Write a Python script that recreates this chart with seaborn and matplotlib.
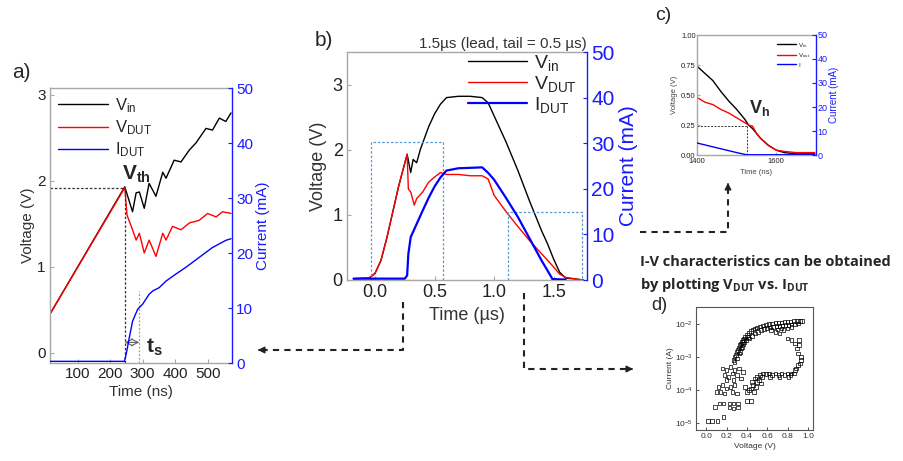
import matplotlib
matplotlib.use("Agg")
import matplotlib.pyplot as plt
import seaborn as sns
from matplotlib.lines import Line2D

# ---------------- data ----------------
# panel a (time in ns, voltage in V, current in mA)
a_t_vin = [15, 245, 269, 280, 290, 305, 320, 341, 362, 372, 397, 418, 444, 464, 495, 515, 536, 556, 572]
a_vin = [0.45, 1.93, 1.64, 1.86, 1.87, 1.68, 1.97, 1.82, 2.10, 2.03, 2.24, 2.22, 2.36, 2.44, 2.61, 2.59, 2.73, 2.69, 2.79]
a_t_vdut = [15, 245, 252, 269, 280, 290, 305, 320, 341, 362, 372, 392, 418, 444, 474, 500, 526, 546, 572]
a_vdut = [0.45, 1.92, 1.60, 1.43, 1.31, 1.39, 1.16, 1.31, 1.12, 1.39, 1.31, 1.47, 1.43, 1.51, 1.54, 1.62, 1.58, 1.64, 1.62]
a_t_idut = [15, 244, 250, 259, 269, 285, 300, 320, 331, 351, 372, 403, 433, 474, 515, 556, 572]
a_idut = [0.3, 0.3, 1.8, 4.6, 7.6, 9.8, 10.7, 12.5, 13.1, 13.7, 14.9, 16.2, 17.4, 19.2, 21.0, 22.3, 22.6]

# panel b (time in us)
b_t_vin = [-0.18, -0.05, 0.0, 0.05, 0.10, 0.15, 0.20, 0.27, 0.30, 0.32, 0.35, 0.38, 0.42, 0.45, 0.50,
           0.55, 0.60, 0.70, 0.80, 0.90, 0.95, 1.00, 1.10, 1.20, 1.30, 1.40, 1.45, 1.50, 1.55, 1.60, 1.75]
b_vin = [0.02, 0.03, 0.10, 0.30, 0.65, 1.05, 1.45, 1.93, 1.65, 1.85, 1.80, 2.00, 2.20, 2.35, 2.55,
         2.70, 2.80, 2.82, 2.82, 2.80, 2.72, 2.52, 2.12, 1.68, 1.20, 0.75, 0.55, 0.32, 0.12, 0.03, 0.0]
b_t_vdut = [-0.18, -0.05, 0.0, 0.05, 0.10, 0.15, 0.20, 0.27, 0.28, 0.30, 0.33, 0.35, 0.40, 0.45, 0.50,
            0.55, 0.60, 0.70, 0.80, 0.90, 0.95, 1.00, 1.10, 1.20, 1.30, 1.40, 1.50, 1.55, 1.60, 1.75]
b_vdut = [0.02, 0.03, 0.10, 0.30, 0.65, 1.05, 1.45, 1.93, 1.40, 1.35, 1.15, 1.25, 1.35, 1.50, 1.58,
          1.65, 1.62, 1.62, 1.60, 1.60, 1.55, 1.30, 1.05, 0.82, 0.60, 0.40, 0.20, 0.09, 0.04, 0.0]
b_t_idut = [-0.18, 0.25, 0.27, 0.28, 0.30, 0.35, 0.40, 0.45, 0.50, 0.55, 0.60, 0.70, 0.80, 0.90,
            0.95, 1.00, 1.10, 1.20, 1.30, 1.40, 1.45, 1.49, 1.60]
b_idut = [0.3, 0.3, 1.0, 5.7, 9.4, 12.3, 15.2, 18.0, 20.5, 22.5, 24.0, 24.5, 24.6, 24.7,
          23.5, 22.0, 18.0, 13.8, 9.0, 4.2, 2.0, 0.2, 0.1]

# panel c (time in ns)
c_t = [1400, 1420, 1440, 1460, 1480, 1500, 1520, 1530, 1540, 1550, 1560, 1580, 1600, 1620, 1650, 1697]
c_vin = [0.74, 0.68, 0.62, 0.53, 0.45, 0.38, 0.30, 0.25, 0.22, 0.18, 0.14, 0.08, 0.04, 0.02, 0.01, 0.01]
c_vout = [0.48, 0.44, 0.42, 0.38, 0.35, 0.31, 0.27, 0.25, 0.24, 0.18, 0.14, 0.08, 0.04, 0.03, 0.02, 0.02]
c_t_i = [1400, 1450, 1500, 1525, 1600, 1697]
c_i = [5.0, 3.0, 1.0, 0.1, 0.1, 0.1]

# panel d (V_DUT in V, log10 of I_DUT in A), grouped by branch of the loop
d_v = [0.40, 0.42, 0.44, 0.46, 0.48, 0.50, 0.53, 0.56, 0.59, 0.62, 0.65, 0.68, 0.71, 0.74, 0.77, 0.80, 0.83, 0.86, 0.89, 0.92, 0.94,
       0.42, 0.45, 0.48, 0.51, 0.54, 0.57, 0.60, 0.63, 0.66, 0.69, 0.72, 0.75, 0.78, 0.81, 0.84, 0.87, 0.90,
       0.64, 0.68, 0.72, 0.76, 0.80, 0.84, 0.70, 0.74,
       0.27, 0.28, 0.29, 0.30, 0.31, 0.32, 0.33, 0.34, 0.35, 0.36, 0.37, 0.38, 0.30, 0.32, 0.34, 0.36, 0.28, 0.33, 0.35, 0.39, 0.41, 0.37,
       0.80, 0.84, 0.87, 0.91, 0.89, 0.90, 0.93, 0.93, 0.90, 0.87, 0.84, 0.92, 0.88, 0.91,
       0.50, 0.53, 0.56, 0.59, 0.62, 0.65, 0.68, 0.71, 0.74, 0.77, 0.80, 0.83, 0.86, 0.55, 0.63, 0.72, 0.81,
       0.48, 0.50, 0.52, 0.54, 0.49, 0.46, 0.44, 0.42, 0.40, 0.38, 0.45, 0.47,
       0.16, 0.20, 0.24, 0.28, 0.32, 0.36, 0.18, 0.22, 0.26, 0.30, 0.34, 0.20, 0.27, 0.12, 0.16, 0.20, 0.24, 0.28, 0.10, 0.14, 0.18, 0.26, 0.30,
       0.13, 0.17, 0.23, 0.27, 0.31, 0.40, 0.44, 0.09, 0.23, 0.27, 0.31, 0.17, 0.02, 0.06, 0.11]
d_logi = [-2.35, -2.28, -2.22, -2.18, -2.15, -2.12, -2.09, -2.06, -2.04, -2.02, -2.00, -1.99, -1.98, -1.97, -1.96, -1.95, -1.94, -1.93, -1.93, -1.92, -1.93,
          -2.45, -2.38, -2.30, -2.25, -2.20, -2.17, -2.14, -2.12, -2.10, -2.08, -2.07, -2.06, -2.05, -2.04, -2.03, -2.02, -2.00,
          -2.20, -2.25, -2.30, -2.20, -2.15, -2.10, -2.18, -2.15,
          -3.10, -3.00, -2.95, -2.85, -2.80, -2.72, -2.65, -2.60, -2.55, -2.50, -2.45, -2.40, -3.05, -2.90, -2.75, -2.62, -3.15, -2.85, -2.70, -2.50, -2.40, -2.55,
          -2.45, -2.50, -2.60, -2.50, -2.75, -2.90, -3.00, -3.10, -3.25, -3.40, -3.50, -3.20, -3.35, -2.65,
          -3.60, -3.55, -3.50, -3.52, -3.50, -3.55, -3.50, -3.55, -3.50, -3.55, -3.50, -3.55, -3.50, -3.60, -3.60, -3.60, -3.60,
          -3.65, -3.75, -3.70, -3.80, -3.90, -3.85, -3.95, -4.00, -4.05, -3.90, -3.75, -4.05,
          -3.35, -3.40, -3.30, -3.40, -3.35, -3.45, -3.55, -3.60, -3.50, -3.55, -3.65, -3.70, -3.70, -3.90, -3.85, -3.95, -3.90, -3.85, -4.05, -4.05, -4.10, -4.05, -4.10,
          -4.40, -4.40, -4.40, -4.40, -4.40, -4.33, -4.33, -4.50, -4.52, -4.55, -4.52, -4.80, -4.92, -4.92, -4.92]

# ---------------- style ----------------
sns.set_theme(style="white")
plt.rcParams['font.family'] = ['Liberation Sans', 'DejaVu Sans']
plt.rcParams['mathtext.default'] = 'regular'

W, H = 904, 461
fig = plt.figure(figsize=(W / 100, H / 100), dpi=100)
fig.patch.set_facecolor('white')

BLUE = '#1a1aff'
GRAY = '#a8a8a8'


def rect(l, t, r, b):
    return [l / W, 1 - b / H, (r - l) / W, (b - t) / H]


def fpos(x, y):
    return (x / W, 1 - y / H)


def style_axes(ax, ax2, fs):
    for s in ['left', 'top', 'bottom']:
        ax.spines[s].set_color(GRAY)
        ax.spines[s].set_linewidth(1.0)
    ax.spines['right'].set_visible(False)
    for s in ['left', 'top', 'bottom']:
        ax2.spines[s].set_visible(False)
    ax2.spines['right'].set_color(BLUE)
    ax2.spines['right'].set_linewidth(1.0)
    ax.tick_params(direction='in', length=3, width=0.8, color=GRAY, labelsize=fs, colors='#222222',
                   left=True, bottom=True, pad=3)
    ax2.tick_params(direction='in', length=3, width=0.8, color=BLUE, labelsize=fs, labelcolor=BLUE,
                    right=True, pad=3)


# ---------------- panel a ----------------
axa = fig.add_axes(rect(50, 88, 232, 363))
axa2 = axa.twinx()
sns.lineplot(x=a_t_vin, y=a_vin, ax=axa, color='black', lw=1.0, label=r'V$_{in}$', legend=False)
sns.lineplot(x=a_t_vdut, y=a_vdut, ax=axa, color='red', lw=1.0, label=r'V$_{DUT}$', legend=False)
sns.lineplot(x=a_t_idut, y=a_idut, ax=axa2, color='blue', lw=1.0, label=r'I$_{DUT}$', legend=False)
axa.set_xlim(15, 575)
axa.set_ylim(-0.12, 3.08)
axa2.set_ylim(0, 50)
axa.set_xticks([100, 200, 300, 400, 500])
axa.set_yticks([0, 1, 2, 3])
axa2.set_yticks([0, 10, 20, 30, 40, 50])
style_axes(axa, axa2, 11)
axa.set_xlabel('Time (ns)', fontsize=11, color='#333333', labelpad=3)
axa.set_ylabel('Voltage (V)', fontsize=11, color='#333333', labelpad=2)
axa2.set_ylabel('Current (mA)', fontsize=11, color=BLUE, labelpad=2)
# annotations
axa.plot([15, 245], [1.92, 1.92], ls=(0, (2, 1.5)), color='#333333', lw=0.9)
axa.plot([245, 245], [-0.12, 1.92], ls=(0, (2, 1.5)), color='#333333', lw=0.9)
axa.plot([290, 290], [-0.12, 0.72], ls=(0, (1.5, 1.5)), color='#999999', lw=0.9)
axa.annotate('', xy=(245, 0.12), xytext=(290, 0.12),
             arrowprops=dict(arrowstyle='<->', color='#666666', lw=0.8, shrinkA=0, shrinkB=0))
axa.text(238, 1.95, r'V$_{th}$', fontsize=15, fontweight='bold', ha='left', va='bottom')
axa.text(310, 0.06, r't$_{s}$', fontsize=15, fontweight='bold', ha='left', va='center')
ha = [axa.get_lines()[0], axa.get_lines()[1], axa2.get_lines()[0]]
axa.legend(ha, [h.get_label() for h in ha], loc='upper left', frameon=False, fontsize=12,
           handlelength=3.0, handletextpad=0.4, labelspacing=0.2, borderaxespad=0.1)

# ---------------- panel b ----------------
axb = fig.add_axes(rect(347, 52, 587, 280))
axb2 = axb.twinx()
sns.lineplot(x=b_t_vin, y=b_vin, ax=axb, color='black', lw=1.0, label=r'V$_{in}$', legend=False)
sns.lineplot(x=b_t_vdut, y=b_vdut, ax=axb, color='red', lw=1.0, label=r'V$_{DUT}$', legend=False)
sns.lineplot(x=b_t_idut, y=b_idut, ax=axb2, color='blue', lw=1.6, label=r'I$_{DUT}$', legend=False)
axb.set_xlim(-0.235, 1.78)
axb.set_ylim(0, 3.5)
axb2.set_ylim(0, 50)
axb.set_xticks([0.0, 0.5, 1.0, 1.5])
axb.set_xticklabels(['0.0', '0.5', '1.0', '1.5'])
axb.set_yticks([0, 1, 2, 3])
axb2.set_yticks([0, 10, 20, 30, 40, 50])
style_axes(axb, axb2, 13)
axb2.tick_params(labelsize=15)
axb.set_xlabel('Time (µs)', fontsize=13, color='#333333', labelpad=4)
axb.set_ylabel('Voltage (V)', fontsize=13, color='#333333', labelpad=4)
axb2.set_ylabel('Current (mA)', fontsize=15, color=BLUE, labelpad=3)
axb.set_title('1.5µs (lead, tail = 0.5 µs)', fontsize=11, loc='right', pad=3, color='#333333')
for (x0, x1, y1) in [(-0.03, 0.57, 2.12), (1.12, 1.74, 1.05)]:
    axb.plot([x0, x0, x1, x1, x0], [0.0, y1, y1, 0.0, 0.0], ls=(0, (2, 1.5)), color='#5b9bd5', lw=0.9)
hb = [axb.get_lines()[0], axb.get_lines()[1], axb2.get_lines()[0]]
axb.legend(hb, [h.get_label() for h in hb], loc='upper right', bbox_to_anchor=(1.0, 1.04),
           frameon=False, fontsize=14, handlelength=3.0, handletextpad=0.4, labelspacing=0.05,
           borderaxespad=0.1)

# ---------------- panel c ----------------
axc = fig.add_axes(rect(697, 35, 816, 155))
axc2 = axc.twinx()
sns.lineplot(x=c_t, y=c_vin, ax=axc, color='black', lw=1.0, label=r'V$_{in}$', legend=False)
sns.lineplot(x=c_t, y=c_vout, ax=axc, color='red', lw=1.0, label=r'V$_{out}$', legend=False)
sns.lineplot(x=c_t_i, y=c_i, ax=axc2, color='blue', lw=1.0, label='I', legend=False)
axc.set_xlim(1400, 1700)
axc.set_ylim(0, 1.0)
axc2.set_ylim(0, 50)
axc.set_xticks([1400, 1600])
axc.set_yticks([0, 0.25, 0.5, 0.75, 1.0])
axc.set_yticklabels(['0.00', '0.25', '0.50', '0.75', '1.00'])
axc2.set_yticks([0, 10, 20, 30, 40, 50])
style_axes(axc, axc2, 5.5)
axc2.tick_params(labelsize=6.5, pad=1)
axc.tick_params(length=2, pad=1)
axc.tick_params(axis='x', pad=2)
axc.set_xlabel('Time (ns)', fontsize=5.5, color='#444444', labelpad=3)
axc.set_ylabel('Voltage (V)', fontsize=5.5, color='#444444', labelpad=2)
axc2.set_ylabel('Current (mA)', fontsize=7, color=BLUE, labelpad=1)
axc.plot([1400, 1527], [0.245, 0.245], ls=(0, (2, 1.5)), color='#333333', lw=0.7)
axc.plot([1527, 1527], [0, 0.245], ls=(0, (2, 1.5)), color='#333333', lw=0.7)
axc.text(1530, 0.31, r'V$_{h}$', fontsize=13, fontweight='bold', ha='left', va='bottom')
hc = [axc.get_lines()[0], axc.get_lines()[1], axc2.get_lines()[0]]
axc.legend(hc, [h.get_label() for h in hc], loc='upper right', frameon=False, fontsize=4.5,
           handlelength=3.0, handletextpad=0.4, labelspacing=0.3, borderaxespad=0.5)

# ---------------- panel d ----------------
axd = fig.add_axes(rect(696, 307, 813, 430))
d_i = [10 ** v for v in d_logi]
sns.scatterplot(x=d_v, y=d_i, ax=axd, marker='s', s=7, facecolor='none', edgecolor='black',
                linewidth=0.5, legend=False)
axd.set_yscale('log')
axd.set_xlim(-0.1, 1.05)
axd.set_ylim(10 ** -5.2, 10 ** -1.5)
axd.set_xticks([0.0, 0.2, 0.4, 0.6, 0.8, 1.0])
axd.set_xticklabels(['0.0', '0.2', '0.4', '0.6', '0.8', '1.0'])
axd.set_yticks([1e-5, 1e-4, 1e-3, 1e-2])
axd.minorticks_off()
for s in axd.spines.values():
    s.set_color('#555555')
    s.set_linewidth(0.8)
axd.tick_params(direction='in', length=2, width=0.6, labelsize=6, colors='#333333', pad=2,
                left=True, bottom=True)
axd.set_xlabel('Voltage (V)', fontsize=6, color='#333333', labelpad=2)
axd.set_ylabel('Current (A)', fontsize=6, color='#333333', labelpad=1)

# ---------------- panel letters and texts ----------------
fig.text(*fpos(12, 72), 'a)', fontsize=15, ha='left', va='center')
fig.text(*fpos(315, 40), 'b)', fontsize=15, ha='left', va='center')
fig.text(*fpos(655, 15), 'c)', fontsize=14, ha='left', va='center')
fig.text(*fpos(651, 306), 'd)', fontsize=13, ha='left', va='center')
fig.text(*fpos(640, 262), 'I-V characteristics can be obtained', fontsize=10.5, fontweight='bold',
         ha='left', va='center', family=['Open Sans', 'DejaVu Sans'])
fig.text(*fpos(640, 285), r'by plotting V$_{DUT}$ vs. I$_{DUT}$', fontsize=10.5, fontweight='bold',
         ha='left', va='center', family=['Open Sans', 'DejaVu Sans'])

# ---------------- connecting dashed arrows ----------------
def dashed_path(pts):
    xs = [p[0] / W for p in pts]
    ys = [1 - p[1] / H for p in pts]
    fig.add_artist(Line2D(xs, ys, transform=fig.transFigure, color='#222222', lw=1.5,
                          ls=(0, (3, 2.5))))


def arrow_head(tip, tail):
    fig.add_artist(matplotlib.patches.FancyArrowPatch(
        fpos(*tail), fpos(*tip), transform=fig.transFigure, arrowstyle='-|>', mutation_scale=10,
        color='#222222', lw=1.0))


dashed_path([(403, 302), (403, 350), (262, 350)])
arrow_head((255, 350), (263, 350))
dashed_path([(524, 293), (524, 369), (628, 369)])
arrow_head((636, 369), (628, 369))
dashed_path([(640, 232), (728, 232), (728, 188)])
arrow_head((728, 180), (728, 188))

fig.savefig('out.png', dpi=100, facecolor='white')
